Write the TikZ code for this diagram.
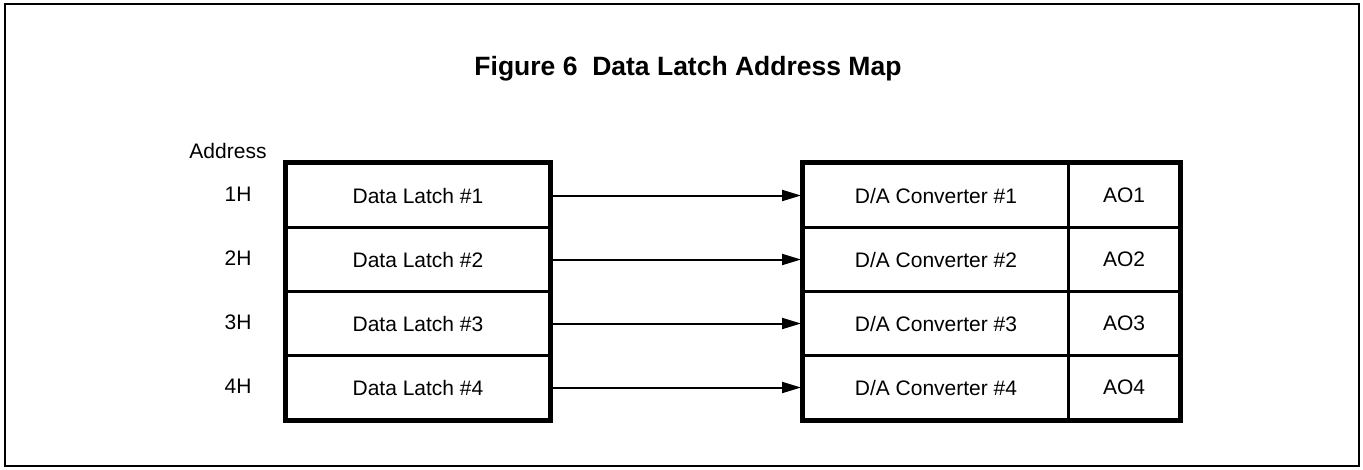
\documentclass[tikz,border=0pt]{standalone}
\usepackage{fontspec}
\setmainfont{Liberation Sans}
\usetikzlibrary{arrows.meta}
\begin{document}
\begin{tikzpicture}[x=1pt,y=-1pt,
  cell/.style={draw, line width=3pt, minimum height=64pt, inner sep=0pt, anchor=north west, font=\fontsize{21}{25}\selectfont},
  addr/.style={font=\fontsize{21}{25}\selectfont},
  link/.style={line width=2pt, -{Triangle[length=19pt,width=11pt]}, shorten >=1pt}]
\useasboundingbox (0,0) rectangle (1363,469);
\draw[line width=2pt] (5,4) rectangle (1359,466);
\node[font=\bfseries\fontsize{26.5}{30}\selectfont] (title) at (688,69) {Figure 6\ \ Data Latch Address Map};
\node[addr] (address) at (228,151) {Address};
\foreach \i/\y in {1/162,2/226,3/290,4/354}{
  \node[cell, minimum width=263pt] (lat\i) at (285,\y) {Data Latch \#\i};
  \node[cell, minimum width=265pt] (dac\i) at (802,\y) {D/A Converter \#\i};
  \node[cell, minimum width=111pt] (ao\i) at (1067,\y) {AO\i};
  \node[addr] (h\i) at (238,\y+32) {\i H};
  \draw[link] (lat\i.east) -- (dac\i.west);
}
\draw[line width=4pt] (lat1.north west) rectangle (lat4.south east);
\draw[line width=4pt] (dac1.north west) rectangle (ao4.south east);
\end{tikzpicture}
\end{document}
